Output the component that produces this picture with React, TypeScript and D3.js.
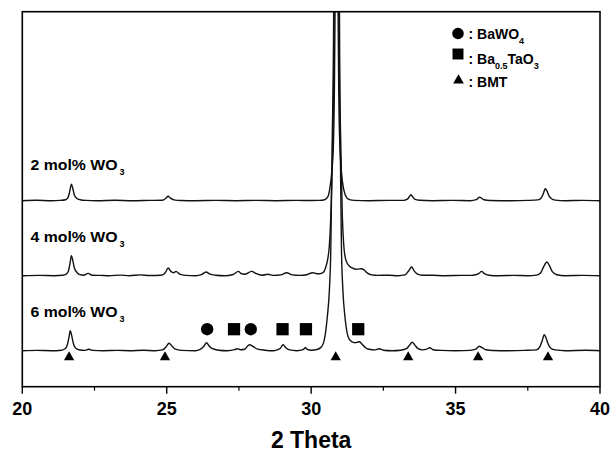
import React from 'react';
import * as d3 from 'd3';

const W = 615;
const H = 453;
const PLOT = { left: 22.3, right: 600, top: 11.7, bottom: 386.7 };

const xDomain: [number, number] = [20, 40];
const yDomain: [number, number] = [0, 375];
const majorTicks = [20, 25, 30, 35, 40];
const minorTicks = [22.5, 27.5, 32.5, 37.5];

const seriesLabels = ['2 mol% WO', '4 mol% WO', '6 mol% WO'];
const seriesSub = ['3', '3', '3'];
const seriesOffsets = [186, 111, 36];

// intensity above each trace's own baseline (a.u.)
const wo2: [number, number][] = [
  [20.0, 0], [20.5, 0.4], [21.0, 0], [21.3, 0.3], [21.5, 1], [21.58, 3], [21.64, 9], [21.7, 16.5], [21.75, 12],
  [21.8, 6], [21.88, 2.5], [22.0, 1], [22.2, 0.3], [22.6, 0], [23.2, 0.4], [23.8, 0], [24.4, 0.3], [24.85, 0.5],
  [24.97, 2.5], [25.05, 4.5], [25.12, 2.8], [25.25, 0.8], [25.5, 0.2], [26.0, 0], [26.7, 0.3], [27.4, 0],
  [28.1, 0.3], [28.8, 0], [29.5, 0.3], [30.0, 0.2], [30.27, 0.3], [30.47, 1], [30.58, 4], [30.64, 11],
  [30.72, 31], [30.765, 51], [30.8, 100], [30.83, 200], [30.85, 400], [30.88, 1500], [30.91, 400],
  [30.93, 200], [30.96, 100], [31.0, 51], [31.04, 31], [31.13, 11], [31.23, 3], [31.33, 1], [31.5, 0.3],
  [32.0, 0], [32.7, 0.3], [33.2, 0.3], [33.33, 1.5], [33.4, 4], [33.45, 6], [33.5, 4.5], [33.58, 1.5],
  [33.75, 0.4], [34.2, 0], [34.9, 0.3], [35.5, 0], [35.72, 1], [35.82, 3.5], [35.88, 3], [35.98, 1],
  [36.2, 0.2], [36.9, 0], [37.5, 0.3], [37.85, 0.8], [37.97, 3], [38.05, 8], [38.1, 12], [38.16, 10],
  [38.23, 5], [38.32, 2], [38.45, 0.6], [38.8, 0], [39.4, 0.3], [40.0, 0],
];

const wo4: [number, number][] = [
  [20.0, 0], [20.6, 0.3], [21.1, 0], [21.4, 0.4], [21.52, 1.5], [21.6, 5], [21.65, 12], [21.7, 20], [21.75, 15],
  [21.8, 8], [21.9, 3], [22.0, 1], [22.12, 0.5], [22.28, 2.3], [22.42, 0.5], [22.7, 0.3], [23.0, 0],
  [23.4, 0.6], [23.7, 0], [24.1, 0.8], [24.4, 0.2], [24.8, 0.5], [24.95, 3], [25.05, 7.7], [25.15, 4],
  [25.25, 3], [25.32, 4.3], [25.45, 1.5], [25.65, 0.3], [26.0, 0], [26.2, 1], [26.36, 3.7], [26.5, 1.5],
  [26.7, 0.5], [27.0, 0], [27.3, 1.2], [27.48, 4.3], [27.58, 2], [27.7, 1.5], [27.94, 4.3], [28.1, 2],
  [28.3, 0.5], [28.5, 1.5], [28.7, 0.3], [28.95, 0.8], [29.15, 3], [29.35, 0.8], [29.6, 0.3], [29.85, 1],
  [30.05, 3], [30.2, 2], [30.3, 2], [30.41, 3], [30.5, 8], [30.57, 16], [30.63, 30], [30.68, 59],
  [30.74, 126], [30.78, 200], [30.82, 400], [30.85, 800], [30.89, 1500], [30.93, 800], [30.96, 400],
  [30.99, 200], [31.03, 126], [31.08, 59], [31.13, 30], [31.2, 16], [31.28, 11], [31.4, 8], [31.55, 6.5],
  [31.7, 6.8], [31.75, 7], [31.82, 6], [31.95, 2.5], [32.1, 0.8], [32.3, 0.3], [32.7, 0.5], [33.0, 0],
  [33.25, 0.8], [33.38, 5], [33.48, 8.7], [33.56, 5], [33.68, 1.5], [33.85, 0.4], [34.2, 0.5], [34.6, 0],
  [35.2, 0.3], [35.6, 0.4], [35.8, 2], [35.9, 4.3], [36.0, 2], [36.15, 0.5], [36.5, 0], [37.0, 0.3],
  [37.5, 0], [37.8, 0.6], [37.95, 3], [38.05, 9], [38.16, 13.7], [38.25, 10], [38.35, 4], [38.5, 1],
  [38.8, 0], [39.4, 0.3], [40.0, 0],
];

const wo6: [number, number][] = [
  [20.0, 0], [20.5, 0.3], [21.0, 0], [21.35, 0.5], [21.48, 2], [21.56, 6], [21.62, 14], [21.66, 20], [21.71, 15],
  [21.77, 7], [21.85, 2.5], [22.0, 0.7], [22.15, 0.3], [22.3, 1.5], [22.45, 0.3], [22.8, 0], [23.3, 0.3],
  [23.7, 0], [24.2, 0.4], [24.6, 0], [24.85, 0.8], [24.98, 4], [25.08, 7.5], [25.17, 5], [25.3, 1.5],
  [25.5, 0.3], [26.0, 0], [26.2, 2], [26.3, 5], [26.38, 8], [26.46, 5], [26.58, 2], [26.8, 0.5], [27.1, 0],
  [27.35, 1], [27.45, 2], [27.55, 1], [27.7, 1.5], [27.86, 6], [28.0, 4], [28.15, 1.5], [28.4, 0.5],
  [28.7, 0], [28.92, 2], [29.03, 6], [29.12, 3], [29.25, 0.8], [29.5, 0], [29.72, 1], [29.8, 3],
  [29.88, 1], [30.0, 0.5], [30.2, 1.2], [30.36, 4], [30.45, 10], [30.56, 34], [30.63, 60], [30.68, 101],
  [30.725, 201], [30.78, 340], [30.82, 700], [30.86, 1500], [30.91, 700], [30.96, 340], [31.01, 201],
  [31.05, 101], [31.1, 60], [31.17, 34], [31.28, 14], [31.4, 9], [31.52, 8], [31.6, 8.5], [31.67, 9],
  [31.75, 7], [31.88, 3], [32.0, 1.5], [32.2, 0.8], [32.35, 2], [32.5, 0.5], [32.8, 0], [33.1, 0.5],
  [33.3, 2], [33.42, 6], [33.5, 8.5], [33.58, 6], [33.7, 2], [33.85, 0.8], [34.0, 1.5], [34.11, 3],
  [34.22, 1], [34.5, 0.3], [35.0, 0], [35.5, 0.3], [35.7, 1.5], [35.82, 4.5], [35.92, 3], [36.05, 1],
  [36.3, 0.2], [36.8, 0], [37.4, 0.3], [37.8, 0.8], [37.92, 4], [38.0, 10], [38.07, 16], [38.13, 13],
  [38.2, 7], [38.3, 2.5], [38.45, 0.8], [38.8, 0], [39.5, 0.4], [40.0, 0],
];

const seriesData = [wo2, wo4, wo6];

// phase markers (2θ positions) over the 6 mol% pattern
const bawo4Peaks = [26.4, 27.91];
const ba05TaO3Peaks = [27.33, 29.01, 29.82, 31.63];
const bmtPeaks = [21.62, 24.94, 30.85, 33.36, 35.78, 38.2];

const FONT = "'Liberation Sans', Arial, Helvetica, sans-serif";

export default function App() {
  const x = d3.scaleLinear().domain(xDomain).range([PLOT.left, PLOT.right]);
  const y = d3.scaleLinear().domain(yDomain).range([PLOT.bottom, PLOT.top]);

  const lineFor = (offset: number) =>
    d3
      .line<[number, number]>()
      .x((d) => x(d[0]))
      .y((d) => y(d[1] + offset))
      .curve(d3.curveMonotoneX);

  const circle = d3.symbol(d3.symbolCircle, 120)()!;
  const square = d3.symbol(d3.symbolSquare, 150)()!;
  const tri = d3.symbol(d3.symbolTriangle, 46)()!;
  const legCircle = d3.symbol(d3.symbolCircle, 105)()!;
  const legSquare = d3.symbol(d3.symbolSquare, 120)()!;
  const legTri = d3.symbol(d3.symbolTriangle, 50)()!;

  const markerOffset = seriesOffsets[2];
  const labelY = [170, 242.3, 316.7];

  return (
    <svg
      width={W}
      height={H}
      viewBox={`0 0 ${W} ${H}`}
      style={{ position: 'absolute', left: 0, top: 0, background: '#fff' }}
      fontFamily={FONT}
      fontWeight="bold"
    >
      <rect x={0} y={0} width={W} height={H} fill="#fff" />
      <defs>
        <clipPath id="plotClip">
          <rect x={PLOT.left} y={PLOT.top} width={PLOT.right - PLOT.left} height={PLOT.bottom - PLOT.top} />
        </clipPath>
      </defs>

      <g clipPath="url(#plotClip)">
        {seriesData.map((data, i) => (
          <path key={i} d={lineFor(seriesOffsets[i])(data) || ''} fill="none" stroke="#111" strokeWidth={1.4} />
        ))}
      </g>

      {/* frame */}
      <rect
        x={PLOT.left}
        y={PLOT.top}
        width={PLOT.right - PLOT.left}
        height={PLOT.bottom - PLOT.top}
        fill="none"
        stroke="#000"
        strokeWidth={1.6}
      />

      {/* ticks */}
      {majorTicks.map((t) => (
        <g key={`M${t}`}>
          <line x1={x(t)} x2={x(t)} y1={PLOT.bottom} y2={PLOT.bottom + 7} stroke="#000" strokeWidth={1.4} />
          <text x={x(t)} y={415} textAnchor="middle" fontSize={18} fill="#000">
            {t}
          </text>
        </g>
      ))}
      {minorTicks.map((t) => (
        <line key={`m${t}`} x1={x(t)} x2={x(t)} y1={PLOT.bottom} y2={PLOT.bottom + 4} stroke="#000" strokeWidth={1.2} />
      ))}
      <text x={(PLOT.left + PLOT.right) / 2} y={448} textAnchor="middle" fontSize={23} fill="#000">
        2 Theta
      </text>

      {/* series labels */}
      {seriesLabels.map((s, i) => (
        <g key={s}>
          <text x={30.5} y={labelY[i]} fontSize={14} textLength={87} lengthAdjust="spacingAndGlyphs" fill="#000">
            {s}
          </text>
          <text x={119.5} y={labelY[i] + 5} fontSize={9} fill="#000">
            {seriesSub[i]}
          </text>
        </g>
      ))}

      {/* phase markers */}
      {bawo4Peaks.map((p) => (
        <path key={`c${p}`} d={circle} transform={`translate(${x(p)},${y(markerOffset + 21.5)})`} fill="#000" />
      ))}
      {ba05TaO3Peaks.map((p) => (
        <path key={`s${p}`} d={square} transform={`translate(${x(p)},${y(markerOffset + 21.5)})`} fill="#000" />
      ))}
      {bmtPeaks.map((p) => (
        <path key={`t${p}`} d={tri} transform={`translate(${x(p)},${y(markerOffset - 6.5)})`} fill="#000" />
      ))}

      {/* legend */}
      <path d={legCircle} transform="translate(458,33.5)" fill="#000" />
      <text x={468.5} y={38.7} fontSize={14} fill="#000">
        : BaWO
        <tspan fontSize={9} dy={5}>4</tspan>
      </text>

      <path d={legSquare} transform="translate(458,54)" fill="#000" />
      <text x={468.5} y={64} fontSize={14} fill="#000">
        : Ba
        <tspan fontSize={9} dy={5}>0.5</tspan>
        <tspan dy={-5}>TaO</tspan>
        <tspan fontSize={9} dy={5}>3</tspan>
      </text>

      <path d={legTri} transform="translate(458.5,80.5)" fill="#000" />
      <text x={468.5} y={87.3} fontSize={14} fill="#000">: BMT</text>
    </svg>
  );
}
